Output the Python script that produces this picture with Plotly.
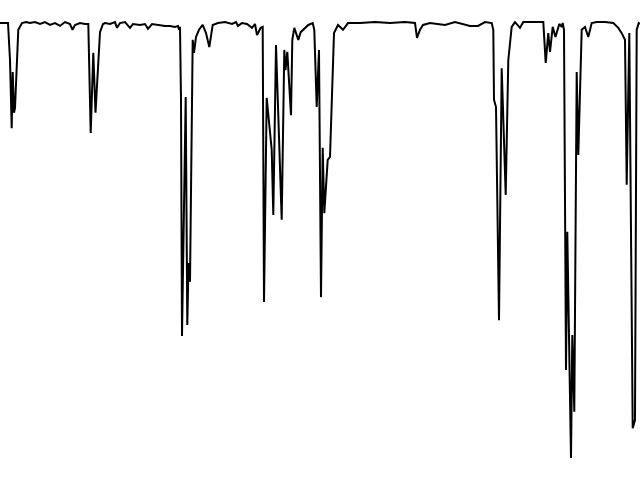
import plotly.graph_objects as go

# Spectrum position (arbitrary units) and transmittance (%)
position = [
    0, 8, 10, 11.7, 12.7, 14, 15, 16.7, 18.3, 22, 26, 30, 35, 40, 45, 50, 55, 60, 65, 70,
    72.5, 75, 80, 85, 88.3, 90.7, 93.3, 95.5, 98, 100, 103, 105, 110, 115, 117, 120, 125, 130,
    133, 140, 145, 148, 152, 158, 165, 170, 175, 178, 179, 180, 181, 182, 184, 185.7, 187.3,
    188.5, 190, 192.7, 194, 196, 199, 202.7, 206, 209.3, 212.7, 218, 225, 232, 236, 238, 242,
    247, 252, 255, 257, 260.7, 262.7, 264, 266.7, 271.7, 273.3, 276, 281.7, 284.3, 285.5,
    287.3, 291, 292.3, 294.3, 298.3, 300.7, 308.3, 312.7, 314.3, 316.7, 319, 321, 322.7,
    324.3, 327.7, 330, 334, 338, 343, 348, 360, 375, 390, 405, 415, 417, 420, 423, 430, 445,
    455, 470, 478, 485, 491.7, 493.3, 494, 496, 499, 501.7, 505.7, 508.3, 511.7, 515, 520,
    523.3, 535, 543.3, 545.7, 548.3, 550, 552.7, 555.5, 559.3, 561.7, 562.7, 564, 566, 567.3,
    570, 571, 572.3, 574.3, 576.7, 578.3, 581.7, 585, 588.3, 591.7, 596.7, 605, 613.3, 618.3,
    621.7, 625, 626.7, 629.3, 632.7, 635, 636.7, 638.7, 640,
]
transmittance = [
    95.2, 95.2, 87.5, 73.3, 85.0, 76.5, 77.5, 87.5, 93.8, 95.2, 95.4, 95.2, 95.4, 95.0, 95.4,
    94.8, 95.2, 94.6, 95.4, 95.0, 93.8, 94.8, 95.2, 95.0, 95.0, 72.3, 89.0, 76.5, 87.5, 93.3,
    95.0, 95.2, 95.0, 95.4, 94.2, 95.2, 95.4, 94.2, 95.0, 94.8, 95.0, 94.0, 95.0, 94.8, 94.6,
    94.6, 94.4, 94.6, 93.8, 94.4, 79.2, 30.0, 58.3, 79.8, 32.3, 45.2, 41.3, 91.7, 89.0, 92.3,
    93.8, 94.8, 93.1, 90.2, 94.8, 95.2, 95.4, 95.0, 95.4, 94.6, 95.2, 95.0, 94.2, 95.0, 92.7,
    94.2, 94.4, 37.1, 79.6, 68.8, 55.2, 90.6, 54.2, 89.6, 85.4, 89.2, 76.0, 91.7, 94.2, 91.7,
    93.3, 94.8, 95.2, 93.8, 77.7, 89.6, 38.1, 69.2, 55.6, 66.7, 67.3, 93.1, 94.8, 93.8, 95.2,
    95.2, 95.4, 95.2, 95.4, 95.2, 92.1, 93.8, 94.8, 95.2, 94.8, 95.4, 94.6, 94.6, 95.4, 95.2,
    93.8, 79.2, 77.7, 33.3, 85.8, 59.4, 87.5, 94.4, 95.4, 94.2, 95.4, 95.4, 95.4, 86.9, 93.1,
    89.2, 94.4, 92.3, 95.0, 94.4, 95.2, 93.8, 22.9, 51.7, 14.6, 4.6, 30.2, 14.2, 85.0, 67.7,
    93.8, 94.4, 92.3, 95.2, 95.4, 95.4, 95.2, 94.2, 93.1, 91.7, 61.5, 93.1, 10.8, 12.5, 93.8,
    95.2, 95.0,
]

fig = go.Figure(
    go.Scatter(
        x=position,
        y=transmittance,
        mode="lines",
        line=dict(color="black", width=2),
        hoverinfo="skip",
    )
)
fig.update_layout(
    width=640,
    height=480,
    margin=dict(l=0, r=0, t=0, b=0),
    paper_bgcolor="white",
    plot_bgcolor="white",
    showlegend=False,
    xaxis=dict(visible=False, range=[0, 640]),
    yaxis=dict(visible=False, range=[0, 100]),
)
fig.write_html("out.html")
